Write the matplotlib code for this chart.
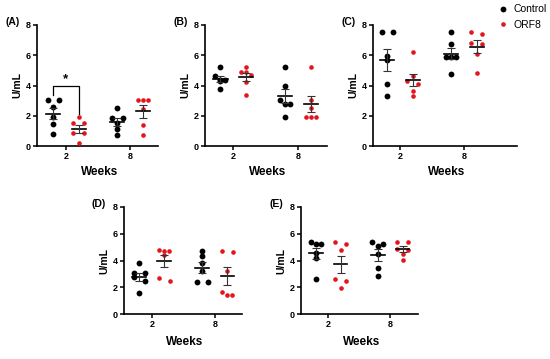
import numpy as np
import matplotlib
matplotlib.use("Agg")
import matplotlib.pyplot as plt
from matplotlib.lines import Line2D

plt.rcParams["font.family"] = ["Liberation Sans", "DejaVu Sans"]
plt.rcParams["font.weight"] = "bold"

# values (U/mL), 2 weeks and 8 weeks
weeks = ["2", "8"]
panels = ["(A)", "(B)", "(C)", "(D)", "(E)"]

a_ctrl = [[3.05, 3.05, 2.55, 1.95, 1.45, 0.8], [2.5, 1.85, 1.85, 1.5, 1.15, 0.75]]
a_orf8 = [[1.95, 1.5, 1.5, 0.85, 0.85, 0.2], [3.05, 3.05, 3.05, 2.45, 1.4, 0.7]]
b_ctrl = [[5.2, 4.6, 4.35, 4.35, 4.3, 3.75], [5.2, 4.0, 3.05, 2.8, 2.8, 1.95]]
b_orf8 = [[5.2, 4.9, 4.9, 4.7, 4.2, 3.35], [5.2, 3.05, 2.5, 1.95, 1.95, 1.95]]
c_ctrl = [[7.56, 7.56, 5.97, 5.68, 4.07, 3.33], [7.56, 6.74, 5.9, 5.86, 5.86, 4.74]]
c_orf8 = [[6.19, 4.65, 4.3, 4.07, 3.63, 3.3], [7.56, 7.4, 6.8, 6.76, 6.1, 4.8]]
d_ctrl = [[3.85, 3.05, 3.05, 2.75, 2.5, 1.55], [4.7, 4.3, 3.8, 3.2, 2.4, 2.4]]
d_orf8 = [[4.75, 4.7, 4.7, 4.4, 2.7, 2.45], [4.7, 4.65, 3.2, 1.65, 1.45, 1.4]]
e_ctrl = [[5.4, 5.2, 5.2, 4.55, 4.2, 2.6], [5.4, 5.25, 5.1, 4.5, 3.45, 2.85]]
e_orf8 = [[5.4, 5.2, 4.75, 2.6, 2.5, 1.95], [5.4, 5.4, 4.85, 4.8, 4.5, 4.05]]

ctrl_all = [a_ctrl, b_ctrl, c_ctrl, d_ctrl, e_ctrl]
orf8_all = [a_orf8, b_orf8, c_orf8, d_orf8, e_orf8]

RED = "#e3141b"
W, H = 550, 359

fig = plt.figure(figsize=(W / 100, H / 100), dpi=100)

# axes boxes in pixels: left, top, right, bottom ; x-limits
boxes = [
    (37, 25, 158, 146, (-0.45, 1.44)),
    (205, 25, 327, 146, (-0.44, 1.45)),
    (373, 25, 517, 146, (-0.42, 1.83)),
    (124, 207, 242, 314, (-0.44, 1.43)),
    (301, 207, 418, 314, (-0.44, 1.45)),
]


def swarm(vals, ppu_y, ppu_x):
    # group near-equal values into rows and spread each row sideways
    order = np.argsort(vals)[::-1]
    offs = np.zeros(len(vals))
    rows = []
    for i in order:
        if rows and abs(vals[rows[-1][0]] - vals[i]) * ppu_y < 4.0:
            rows[-1].append(i)
        else:
            rows.append([i])
    for r in rows:
        n = len(r)
        if n % 2:
            pos = (np.arange(n) - (n - 1) / 2) * 5.0
        else:
            k = np.arange(1, n // 2 + 1) * 5.5
            pos = np.concatenate([-k[::-1], k])
        for j, i in enumerate(r):
            offs[i] = pos[j] / ppu_x
    return offs


def group(ax, x0, vals, color, ms, ppu_y, ppu_x):
    vals = np.array(vals)
    xs = x0 + swarm(vals, ppu_y, ppu_x)
    ax.plot(xs, vals, "o", color=color, ms=ms, mew=0, zorder=3, clip_on=False)
    m = vals.mean()
    se = vals.std(ddof=1) / np.sqrt(len(vals))
    ax.plot([x0 - 0.11, x0 + 0.11], [m, m], color="black", lw=1.2, zorder=4)
    ax.errorbar([x0], [m], yerr=[se], fmt="none", ecolor="#333333",
                elinewidth=0.8, capsize=3, capthick=0.8, zorder=4)


axes = []
for k, (l, t, r, b, xl) in enumerate(boxes):
    ax = fig.add_axes([l / W, 1 - b / H, (r - l) / W, (b - t) / H])
    ax.set_xlim(*xl)
    ax.set_ylim(0, 8)
    ppu_y = (b - t) / 8
    ppu_x = (r - l) / (xl[1] - xl[0])
    for w in range(2):
        group(ax, w - 0.2, ctrl_all[k][w], "black", 4.2, ppu_y, ppu_x)
        group(ax, w + 0.2, orf8_all[k][w], RED, 3.3, ppu_y, ppu_x)
    ax.set_xticks([0, 1])
    ax.set_xticklabels(weeks)
    ax.set_yticks([0, 2, 4, 6, 8])
    for s in ["top", "right"]:
        ax.spines[s].set_visible(False)
    for s in ["left", "bottom"]:
        ax.spines[s].set_linewidth(1.2)
    ax.tick_params(length=3, width=1.1, labelsize=6.5, pad=1.5)
    ax.patch.set_alpha(0)
    axes.append(ax)

    # labels
    fig.text((l - 20) / W, 1 - ((t + b) / 2) / H, "U/mL", rotation=90,
             ha="center", va="center", fontsize=7.5)
    fig.text(((l + r) / 2 + 2) / W, 1 - (b + 26 + (2 if k > 2 else 0)) / H, "Weeks",
             ha="center", va="center", fontsize=8.5)
    fig.text((l - 32) / W, 1 - (t - 3) / H, panels[k], ha="left", va="center",
             fontsize=7.5)

# significance bracket in panel A
ax = axes[0]
ax.plot([-0.2, -0.2, 0.2, 0.2], [3.35, 3.96, 3.96, 2.1], color="black", lw=0.9)
ax.text(0, 4.45, "*", ha="center", va="center", fontsize=9.5)

handles = [
    Line2D([], [], marker="o", ls="none", color="black", ms=4.2, mew=0),
    Line2D([], [], marker="o", ls="none", color=RED, ms=3.3, mew=0),
]
fig.legend(handles, ["Control", "ORF8"], loc="upper left",
           bbox_to_anchor=(493 / W, 1 - 0 / H), frameon=False,
           prop={"size": 7.5, "weight": "normal"}, handletextpad=0.4,
           labelspacing=0.55, handlelength=1.2, borderaxespad=0)

fig.savefig("out.png", dpi=100)
